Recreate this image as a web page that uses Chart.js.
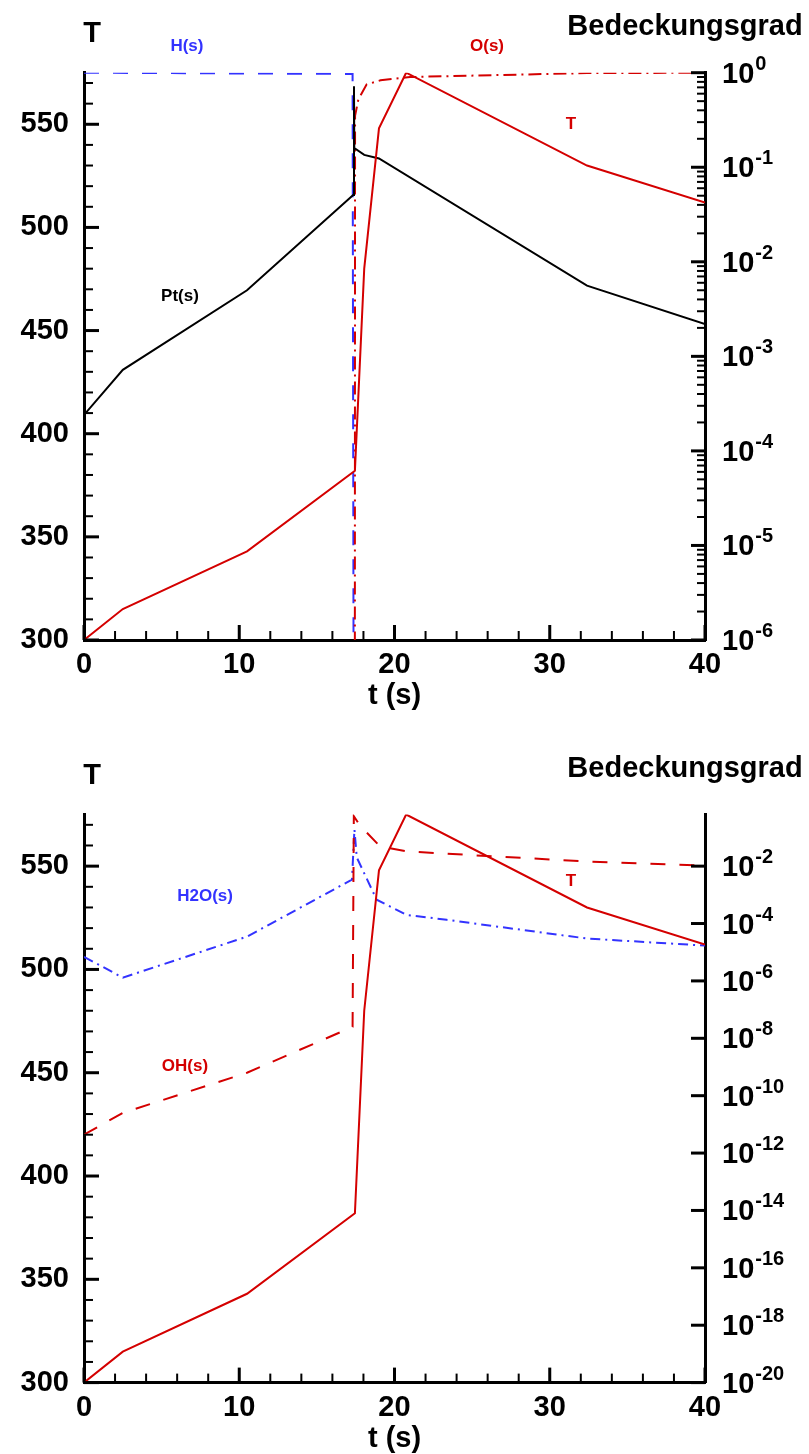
<!DOCTYPE html>
<html>
<head>
  <title>Bedeckungsgrad und Temperatur</title>
  <script src="https://cdn.jsdelivr.net/npm/chart.js"></script>
  <style>
    body { margin: 0; background: #fff; }
    canvas { display: block; }
  </style>
</head>
<body>
  <canvas id="upper" width="809" height="727"></canvas>
  <canvas id="lower" width="809" height="727"></canvas>

  <script>
    // temperature T (left axis), shared by both panels
    const tT   = [0, 2.5, 10.5, 17.45, 18.05, 19.0, 20.75, 32.4, 40];
    const temp = [300, 315, 343, 382, 480, 548, 575, 530, 512];

    // upper panel coverages (right axis, log)
    const tH   = [0, 17.3, 17.39, 40];
    const covH = [1.0, 0.97, 1e-9, 1e-9];

    const tO   = [0, 17.44, 17.46, 17.67, 18.2, 19.1, 21.0, 32.4, 40];
    const covO = [1e-9, 1e-9, 0.35, 0.52, 0.75, 0.83, 0.9, 0.99, 1.0];

    const tPt   = [0, 2.5, 10.5, 17.34, 17.39, 17.41, 18.05, 19.0, 32.4, 40];
    const covPt = [2.4e-4, 7.2e-4, 5.0e-3, 0.051, 0.72, 0.16, 0.135, 0.124, 5.6e-3, 2.2e-3];

    // lower panel coverages
    const tH2O   = [0, 2.5, 10.5, 17.26, 17.42, 17.57, 18.85, 20.79, 23.36, 32.4, 40];
    const covH2O = [6.9e-6, 1.3e-6, 3.5e-5, 3.4e-3, 0.19, 0.020, 6.8e-4, 2.0e-4, 1.35e-4, 3.0e-5, 1.7e-5];

    const tOH   = [0, 2.5, 10.5, 17.3, 17.38, 17.8, 19.07, 20.79, 22.9, 32.4, 40];
    const covOH = [4.4e-12, 2.5e-11, 6.3e-10, 2.5e-8, 0.55, 0.25, 0.049, 0.033, 0.028, 0.0145, 0.0105];

    // tick labels
    const xTicks = [0, 10, 20, 30, 40];
    const tTicks = [300, 350, 400, 450, 500, 550];
    const expUpper = [0, -1, -2, -3, -4, -5, -6];
    const expLower = [-2, -4, -6, -8, -10, -12, -14, -16, -18, -20];

    const RED = '#d40000';
    const BLUE = '#3333ff';
    const FONT = '"Liberation Sans", Arial, Helvetica, sans-serif';

    function pts(xs, ys) {
      return xs.map((x, i) => ({ x: x, y: ys[i] }));
    }

    function tick(ctx, x1, y1, x2, y2, w) {
      ctx.lineWidth = w;
      ctx.beginPath();
      ctx.moveTo(x1, y1);
      ctx.lineTo(x2, y2);
      ctx.stroke();
    }

    // inward tick marks, tick labels, axis titles and curve names
    const panelDecor = {
      id: 'panelDecor',
      afterDraw(chart) {
        const o = chart.options.plugins.panelDecor;
        const { ctx, chartArea: a } = chart;
        const sx = chart.scales.x, sy = chart.scales.y, sr = chart.scales.y1;
        ctx.save();
        ctx.strokeStyle = '#000';
        ctx.fillStyle = '#000';

        // left axis: every 10 K, major every 50
        for (let v = 300; v <= 575; v += 10) {
          const major = v % 50 === 0;
          const py = sy.getPixelForValue(v);
          tick(ctx, a.left, py, a.left + (major ? 15 : 9), py, major ? 3 : 2);
        }
        // bottom axis: every 2 s, major every 10
        for (let v = 0; v <= 40; v += 2) {
          const major = v % 10 === 0;
          const px = sx.getPixelForValue(v);
          tick(ctx, px, a.bottom, px, a.bottom - (major ? 15 : 9), major ? 3 : 2);
        }
        // right axis
        o.exps.forEach(e => {
          const py = sr.getPixelForValue(Math.pow(10, e));
          tick(ctx, a.right, py, a.right - 14, py, 3);
          if (o.minor && e > o.exps[o.exps.length - 1]) {
            for (let m = 2; m <= 9; m++) {
              const my = sr.getPixelForValue(m * Math.pow(10, e - 1));
              tick(ctx, a.right, my, a.right - 8, my, 2);
            }
          }
        });

        ctx.font = 'bold 29px ' + FONT;
        ctx.textBaseline = 'middle';
        ctx.textAlign = 'right';
        tTicks.forEach(v => ctx.fillText(String(v), a.left - 15, sy.getPixelForValue(v)));
        ctx.textAlign = 'center';
        xTicks.forEach(v => ctx.fillText(String(v), sx.getPixelForValue(v), a.bottom + 25));
        ctx.fillText('t (s)', (a.left + a.right) / 2, a.bottom + 56);

        // 10^n labels
        ctx.textAlign = 'left';
        ctx.textBaseline = 'alphabetic';
        o.exps.forEach(e => {
          const py = sr.getPixelForValue(Math.pow(10, e));
          ctx.font = 'bold 29px ' + FONT;
          ctx.fillText('10', a.right + 17, py + 10);
          const w = ctx.measureText('10').width;
          ctx.font = 'bold 20px ' + FONT;
          ctx.fillText(String(e), a.right + 18 + w, py - 3);
        });

        ctx.font = 'bold 29px ' + FONT;
        ctx.textBaseline = 'middle';
        ctx.textAlign = 'center';
        ctx.fillText('T', a.left + 8, a.top - 39);
        ctx.fillText('Bedeckungsgrad', a.right - 20, a.top - 46);

        ctx.font = 'bold 17px ' + FONT;
        o.names.forEach(n => {
          ctx.fillStyle = n.color;
          ctx.fillText(n.text, sx.getPixelForValue(n.t), sy.getPixelForValue(n.T));
        });
        ctx.restore();
      }
    };

    function lineSet(data, color, dash, axis) {
      return {
        data: data,
        borderColor: color,
        borderWidth: 2,
        borderDash: dash,
        pointRadius: 0,
        tension: 0,
        fill: false,
        yAxisID: axis
      };
    }

    function makePanel(id, datasets, rightMin, rightMax, padTop, xHeight, decor) {
      return new Chart(document.getElementById(id), {
        type: 'line',
        data: { datasets: datasets },
        plugins: [panelDecor],
        options: {
          responsive: false,
          animation: false,
          devicePixelRatio: 1,
          layout: { padding: { top: padTop, left: 0, right: 0, bottom: 0 } },
          plugins: {
            legend: { display: false },
            tooltip: { enabled: false },
            panelDecor: decor
          },
          scales: {
            x: {
              type: 'linear', min: 0, max: 40,
              grid: { display: false, drawTicks: false },
              ticks: { display: false },
              border: { display: true, color: '#000', width: 3 },
              afterFit: s => { s.height = xHeight; }
            },
            y: {
              type: 'linear', position: 'left', min: 300, max: 575,
              grid: { display: false, drawTicks: false },
              ticks: { display: false },
              border: { display: true, color: '#000', width: 3 },
              afterFit: s => { s.width = 84; }
            },
            y1: {
              type: 'logarithmic', position: 'right', min: rightMin, max: rightMax,
              grid: { display: false, drawTicks: false },
              ticks: { display: false },
              border: { display: true, color: '#000', width: 3 },
              afterFit: s => { s.width = 104; }
            }
          }
        }
      });
    }

    // first dataset ends up on top
    makePanel('upper', [
      lineSet(pts(tT, temp), RED, [], 'y'),
      lineSet(pts(tPt, covPt), '#000', [], 'y1'),
      lineSet(pts(tO, covO), RED, [13, 5, 2, 5], 'y1'),
      lineSet(pts(tH, covH), BLUE, [15, 14], 'y1')
    ], 1e-6, 1, 72.7, 87, {
      exps: expUpper,
      minor: true,
      names: [
        { text: 'H(s)', t: 6.63, T: 588, color: BLUE },
        { text: 'O(s)', t: 25.96, T: 587.7, color: RED },
        { text: 'T', t: 31.37, T: 550, color: RED },
        { text: 'Pt(s)', t: 6.18, T: 466.5, color: '#000' }
      ]
    });

    makePanel('lower', [
      lineSet(pts(tT, temp), RED, [], 'y'),
      lineSet(pts(tOH, covOH), RED, [15, 14], 'y1'),
      lineSet(pts(tH2O, covH2O), BLUE, [10, 5, 2, 5], 'y1')
    ], 1e-20, Math.pow(10, -0.2), 87.5, 71.4, {
      exps: expLower,
      minor: false,
      names: [
        { text: 'H2O(s)', t: 7.8, T: 535.5, color: BLUE },
        { text: 'OH(s)', t: 6.5, T: 453.2, color: RED },
        { text: 'T', t: 31.37, T: 542.7, color: RED }
      ]
    });
  </script>
</body>
</html>
